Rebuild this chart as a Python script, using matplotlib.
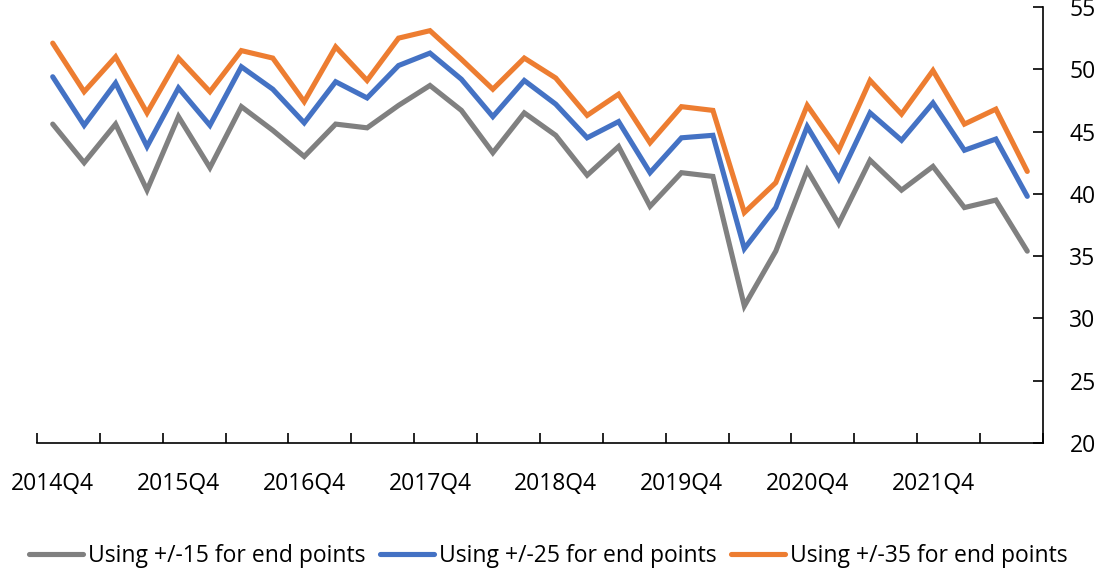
import matplotlib.pyplot as plt
import numpy as np

# quarters 2014Q4 .. 2022Q3
quarters = [f'{y}Q{q}' for y, q in
            [(2014, 4)] + [(y, q) for y in range(2015, 2022) for q in (1, 2, 3, 4)] + [(2022, 1), (2022, 2), (2022, 3)]]

ends_15 = [45.6, 42.5, 45.6, 40.3, 46.2, 42.1, 47.0, 45.1, 43.0, 45.6,
           45.3, 47.1, 48.7, 46.7, 43.3, 46.5, 44.7, 41.5, 43.8, 39.0,
           41.7, 41.4, 31.0, 35.4, 41.9, 37.6, 42.7, 40.3, 42.2, 38.9,
           39.5, 35.4]
ends_25 = [49.4, 45.5, 48.9, 43.8, 48.5, 45.5, 50.2, 48.4, 45.7, 49.0,
           47.7, 50.3, 51.3, 49.2, 46.2, 49.1, 47.2, 44.5, 45.8, 41.7,
           44.5, 44.7, 35.6, 38.9, 45.4, 41.2, 46.5, 44.3, 47.3, 43.5,
           44.4, 39.8]
ends_35 = [52.1, 48.2, 51.0, 46.5, 50.9, 48.2, 51.5, 50.9, 47.4, 51.8,
           49.1, 52.5, 53.1, 50.8, 48.4, 50.9, 49.3, 46.3, 48.0, 44.1,
           47.0, 46.7, 38.5, 40.9, 47.1, 43.5, 49.1, 46.4, 49.9, 45.6,
           46.8, 41.8]

series_names = ['Using +/-15 for end points',
                'Using +/-25 for end points',
                'Using +/-35 for end points']
colors = ['#808080', '#4472C4', '#ED7D31']

plt.rcParams['font.family'] = ['Open Sans', 'DejaVu Sans']
fs = 16.5

fig = plt.figure(figsize=(11.01, 5.71), dpi=100)
ax = fig.add_axes([37 / 1101, 128 / 571, 1006 / 1101, 436 / 571])

x = np.arange(len(quarters))
for vals, name, c in zip([ends_15, ends_25, ends_35], series_names, colors):
    ax.plot(x, vals, color=c, lw=3.7, label=name, solid_joinstyle='miter',
            solid_capstyle='round')

ax.set_xlim(-0.5, len(quarters) - 0.5)
ax.set_ylim(20, 55)

# x axis: tick marks every 2 quarters, labels every 4
ax.set_xticks(np.arange(-0.5, len(quarters), 2))
ax.set_xticklabels([])
ax.set_xticks(x[::4], minor=True)
ax.set_xticklabels(quarters[::4], minor=True)
ax.tick_params(axis='x', which='major', direction='in', length=7, width=1.2)
ax.tick_params(axis='x', which='minor', length=0, pad=21, labelsize=fs)

# y axis on the right
ax.yaxis.tick_right()
ax.set_yticks(np.arange(20, 56, 5))
ax.tick_params(axis='y', direction='in', length=7, width=1.2, pad=19, labelsize=fs)

for s in ['left', 'top']:
    ax.spines[s].set_visible(False)
for s in ['bottom', 'right']:
    ax.spines[s].set_linewidth(1.2)

fig.legend(loc='center', bbox_to_anchor=(0.498, 0.027), ncol=3, frameon=False,
           fontsize=fs, handlelength=2.35, handletextpad=0.2, columnspacing=0.65)

plt.savefig('out.png', dpi=100)
